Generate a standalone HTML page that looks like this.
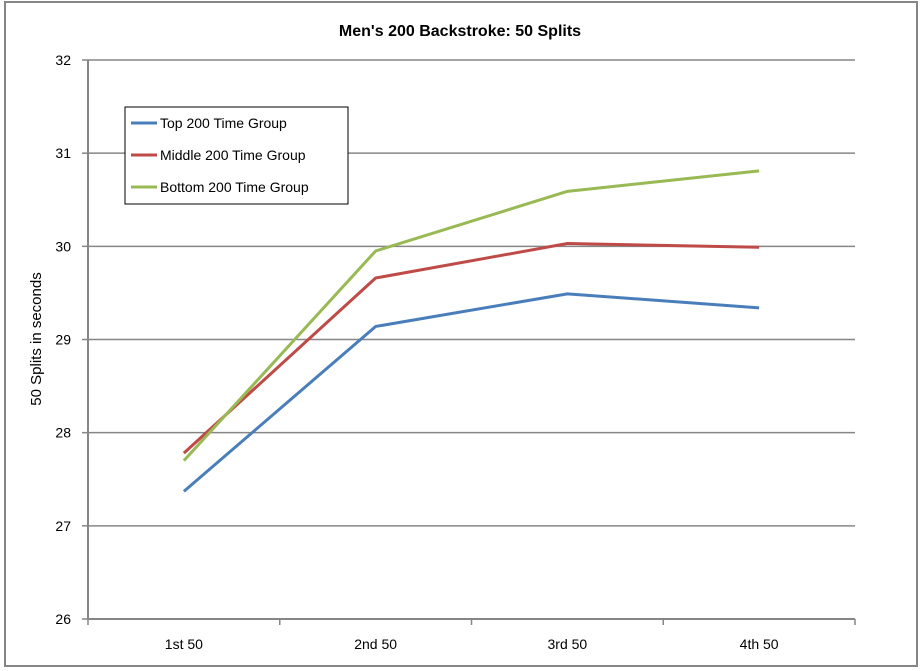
<!DOCTYPE html>
<html><head><meta charset="utf-8"><style>
body{margin:0;background:#fff;}
svg{display:block;font-family:"Liberation Sans",sans-serif;}
</style></head><body>
<svg id="chart" width="920" height="671">
<rect x="5" y="2" width="912" height="664" fill="#fff" stroke="#868686" stroke-width="2"/>
<text x="460" y="36" text-anchor="middle" font-size="16" font-weight="bold">Men's 200 Backstroke: 50 Splits</text>
<text transform="translate(41,339) rotate(-90)" text-anchor="middle" font-size="15">50 Splits in seconds</text>
<g id="grid"></g><g id="axes"></g><g id="series"></g>
<g>
<rect x="125" y="107" width="223" height="97" fill="#fff" stroke="#000" stroke-width="1"/>
<line x1="131" y1="123" x2="157" y2="123" stroke="#4a7ebb" stroke-width="3"/>
<text x="160" y="128" font-size="14">Top 200 Time Group</text>
<line x1="131" y1="155" x2="157" y2="155" stroke="#be4b48" stroke-width="3"/>
<text x="160" y="160" font-size="14">Middle 200 Time Group</text>
<line x1="131" y1="187" x2="157" y2="187" stroke="#98b954" stroke-width="3"/>
<text x="160" y="192" font-size="14">Bottom 200 Time Group</text>
</g>
</svg>
<script>
const categories=["1st 50","2nd 50","3rd 50","4th 50"];
const topGroup=[27.37,29.14,29.49,29.34];
const middleGroup=[27.78,29.66,30.03,29.99];
const bottomGroup=[27.70,29.95,30.59,30.81];
const yTicks=[26,27,28,29,30,31,32];
const X0=88,X1=855,Y0=619,Y1=60,YMIN=26,YMAX=32;
const NS="http://www.w3.org/2000/svg";
const bw=(X1-X0)/categories.length;
function xs(i){return X0+bw*(i+0.5);}
function ys(v){return Y0-(v-YMIN)/(YMAX-YMIN)*(Y0-Y1);}
function mk(t,a,p){const e=document.createElementNS(NS,t);for(const k in a)e.setAttribute(k,a[k]);p.appendChild(e);return e;}
const grid=document.getElementById('grid'),axes=document.getElementById('axes'),ser=document.getElementById('series');
yTicks.forEach(v=>{
  const y=ys(v);
  if(v>YMIN){const g=mk('line',{x1:X0,x2:X1,y1:y,y2:y,stroke:'#868686','stroke-width':1.5},grid);
  
  }
  const tk=mk('line',{x1:X0-6,x2:X0,y1:y,y2:y,stroke:'#868686','stroke-width':1.5},axes);
  
  
  const t=mk('text',{x:X0-17,y:y+5,'text-anchor':'end','font-size':14},axes);t.textContent=v;
  
  
});
const ya=mk('line',{x1:X0,x2:X0,y1:Y1,y2:Y0,stroke:'#868686','stroke-width':2},axes);


const xa=mk('line',{x1:X0,x2:X1,y1:Y0,y2:Y0,stroke:'#868686','stroke-width':2},axes);


for(let i=0;i<=categories.length;i++){const x=X0+bw*i;const tk=mk('line',{x1:x,x2:x,y1:Y0,y2:Y0+6,stroke:'#868686','stroke-width':1.5},axes);
  
  }
categories.forEach((c,i)=>{const t=mk('text',{x:xs(i),y:649,'text-anchor':'middle','font-size':14},axes);t.textContent=c;
  
  });
[[topGroup,'#4a7ebb','series-top'],[middleGroup,'#be4b48','series-middle'],[bottomGroup,'#98b954','series-bottom']].forEach(([d,c,n])=>{
  const p=mk('polyline',{points:d.map((v,i)=>xs(i)+','+ys(v)).join(' '),fill:'none',stroke:c,'stroke-width':3,'stroke-linejoin':'round'},ser);
  
  
});
</script>
</body></html>
